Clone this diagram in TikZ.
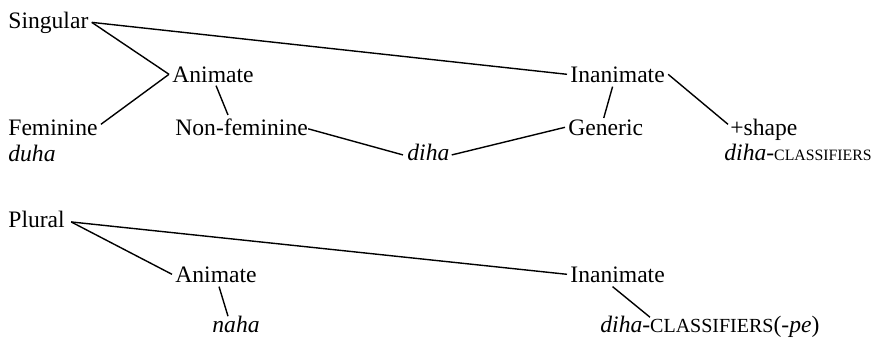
\documentclass[tikz,border=0pt]{standalone}
\usepackage{fontspec}
\setmainfont{Liberation Serif}
\usetikzlibrary{calc}
\newcommand{\smcp}[2][9.4]{{\fontsize{#1}{11}\selectfont #2}}
\begin{document}
\begin{tikzpicture}[x=0.5pt,y=-0.5pt,
  lbl/.style={anchor=base west,inner sep=1.5pt,font=\fontsize{11.8}{14}\selectfont},
  conn/.style={line width=0.7pt}]
\useasboundingbox (0,0) rectangle (877,338);
% singular
\node[lbl] (sing) at (5,28) {Singular};
\node[lbl] (anim1) at (169,82) {Animate};
\node[lbl] (inan1) at (567,82) {Inanimate};
\node[lbl] (fem) at (5,135) {Feminine};
\node[lbl] (duha) at (5,161) {\itshape duha};
\node[lbl] (nonfem) at (172,135) {Non-feminine};
\node[lbl] (diha) at (404,160) {\itshape diha};
\node[lbl] (gen) at (565,135) {Generic};
\node[lbl] (shape) at (727,135) {+shape};
\node[lbl] (dcl) at (721,160) {\textit{diha}-\smcp[7.9]{CLASSIFIERS}};
% plural
\node[lbl] (plur) at (5,227) {Plural};
\node[lbl] (anim2) at (172,282) {Animate};
\node[lbl] (inan2) at (567,282) {Inanimate};
\node[lbl] (naha) at (209,332) {\itshape naha};
\node[lbl] (dclpe) at (597,332) {\textit{diha}-\smcp[10]{CLASSIFIERS}(-\textit{pe})};
% connectors
\draw[conn] (sing.east) -- (anim1.west);
\draw[conn] (sing.east) -- (inan1.west);
\draw[conn] ($(fem.east)+(0,-3)$) -- (anim1.west);
\draw[conn] ($(anim1.south)+(3,0)$) -- ($(nonfem.north west)+(56,0)$);
\draw[conn] ($(nonfem.east)+(-3,2)$) -- ($(diha.west)+(-1,3)$);
\draw[conn] ($(diha.east)+(-1,3)$) -- (gen.west);
\draw[conn] ($(inan1.south)+(-5,1)$) -- ($(gen.north)+(-2,2)$);
\draw[conn] (inan1.east) -- ($(shape.west)+(1,-5)$);
\draw[conn] ($(plur.east)+(3,3)$) -- (anim2.west);
\draw[conn] ($(plur.east)+(3,3)$) -- (inan2.west);
\draw[conn] ($(anim2.south)+(3,1)$) -- ($(naha.north west)+(19,4)$);
\draw[conn] ($(inan2.south)+(-5,1)$) -- ($(dclpe.north west)+(53,5)$);
\end{tikzpicture}
\end{document}
